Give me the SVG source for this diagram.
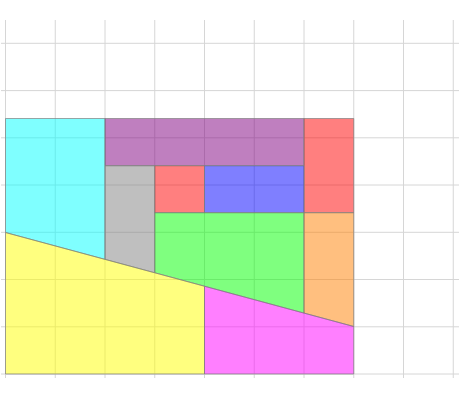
<svg xmlns="http://www.w3.org/2000/svg" width="460" height="400" viewBox="0 0 460 400">
<style>
.grid line{stroke:#d6d6d6;stroke-width:1}
.cell{fill-opacity:0.5;stroke:#808080;stroke-opacity:0.7;stroke-width:1}
</style>
<rect width="460" height="400" fill="#fff"/>
<g class="grid">
<line x1="5.5" y1="20" x2="5.5" y2="378"/>
<line x1="55.25" y1="20" x2="55.25" y2="378"/>
<line x1="105" y1="20" x2="105" y2="378"/>
<line x1="154.75" y1="20" x2="154.75" y2="378"/>
<line x1="204.5" y1="20" x2="204.5" y2="378"/>
<line x1="254.25" y1="20" x2="254.25" y2="378"/>
<line x1="304" y1="20" x2="304" y2="378"/>
<line x1="353.75" y1="20" x2="353.75" y2="378"/>
<line x1="403.5" y1="20" x2="403.5" y2="378"/>
<line x1="453.25" y1="20" x2="453.25" y2="378"/>
<line x1="1" y1="43.3" x2="459" y2="43.3"/>
<line x1="1" y1="90.6" x2="459" y2="90.6"/>
<line x1="1" y1="137.8" x2="459" y2="137.8"/>
<line x1="1" y1="185" x2="459" y2="185"/>
<line x1="1" y1="232.3" x2="459" y2="232.3"/>
<line x1="1" y1="279.5" x2="459" y2="279.5"/>
<line x1="1" y1="326.8" x2="459" y2="326.8"/>
<line x1="1" y1="374" x2="459" y2="374"/>
</g>
<g id="cyan"><polygon class="cell" fill="#00ffff" points="5.5,118.5 105,118.5 105,259.4 5.5,232.5"/></g>
<g id="purple"><polygon class="cell" fill="#800080" points="105,118.5 304,118.5 304,165.7 105,165.7"/></g>
<g id="red-right"><polygon class="cell" fill="#ff0000" points="304,118.5 353.75,118.5 353.75,212.7 304,212.7"/></g>
<g id="gray"><polygon class="cell" fill="#808080" points="105,165.7 154.75,165.7 154.75,272.8 105,259.4"/></g>
<g id="red-small"><polygon class="cell" fill="#ff0000" points="154.75,165.7 204.5,165.7 204.5,212.7 154.75,212.7"/></g>
<g id="blue"><polygon class="cell" fill="#0000ff" points="204.5,165.7 304,165.7 304,212.7 204.5,212.7"/></g>
<g id="green"><polygon class="cell" fill="#00ff00" points="154.75,212.7 304,212.7 304,313.1 154.75,272.8"/></g>
<g id="orange"><polygon class="cell" fill="#ff8000" points="304,212.7 353.75,212.7 353.75,326.5 304,313.1"/></g>
<g id="yellow"><polygon class="cell" fill="#ffff00" points="5.5,232.5 204.5,286.2 204.5,374 5.5,374"/></g>
<g id="magenta"><polygon class="cell" fill="#ff00ff" points="204.5,286.2 353.75,326.5 353.75,374 204.5,374"/></g>
</svg>
